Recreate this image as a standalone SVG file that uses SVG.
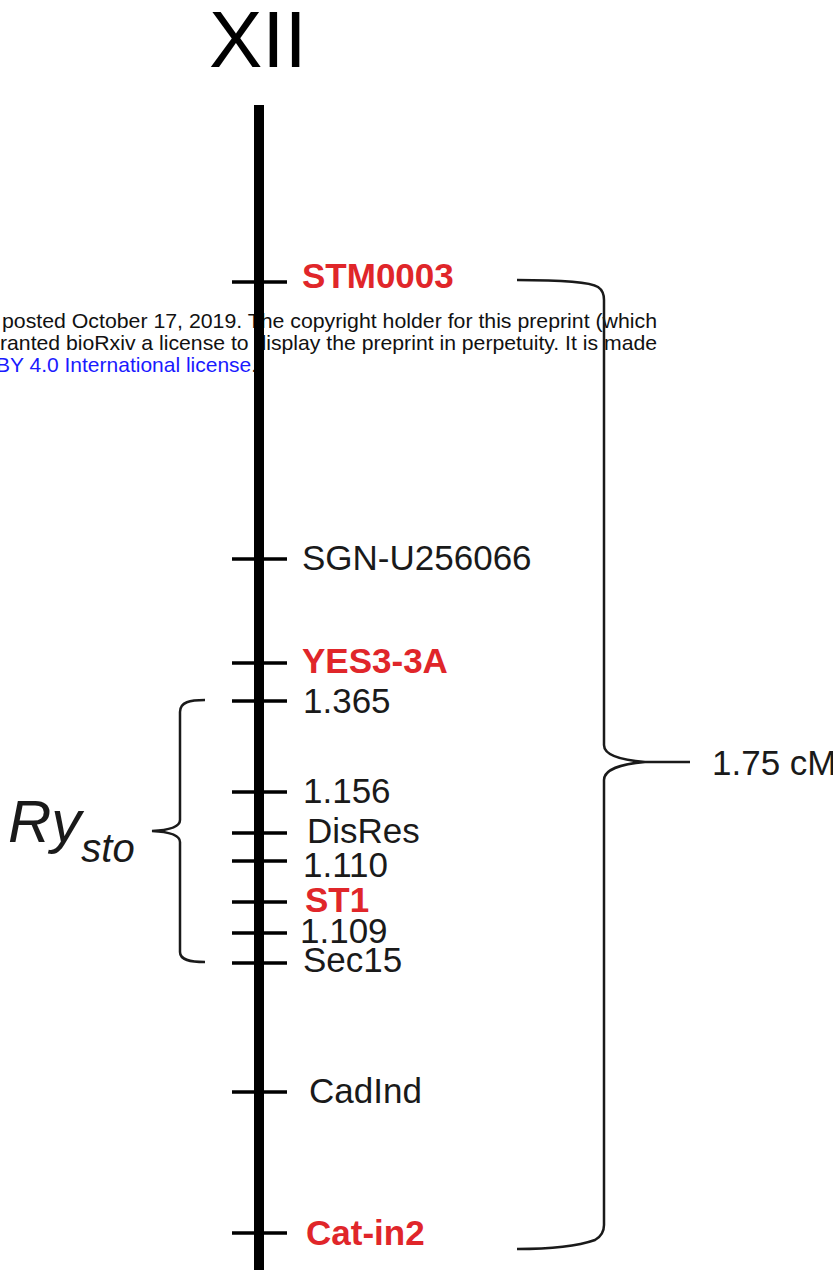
<svg xmlns="http://www.w3.org/2000/svg" width="833" height="1273" viewBox="0 0 833 1273">
<style>
.wm{font-family:"Liberation Sans",Arial,sans-serif;font-size:21px;fill:#111}
.lbl{font-family:"Liberation Sans",Arial,sans-serif;font-size:35px;fill:#1a1a1a}
.red{font-family:"Liberation Sans",Arial,sans-serif;font-size:35px;font-weight:bold;fill:#e0262a}
.tick{stroke:#000;stroke-width:3.5}
.br{fill:none;stroke:#1a1a1a;stroke-width:2.5}
</style>
<rect width="833" height="1273" fill="#fff"/>
<g id="watermark">
<text class="wm" x="2" y="328" textLength="655" lengthAdjust="spacingAndGlyphs">posted October 17, 2019. The copyright holder for this preprint (which</text>
<text class="wm" x="0" y="350" textLength="657" lengthAdjust="spacingAndGlyphs">ranted bioRxiv a license to display the preprint in perpetuity. It is made</text>
<text class="wm" x="-4" y="372"><tspan fill="#1a1aff">BY 4.0 International license</tspan>.</text>
</g>
<g id="title"><text x="209" y="67" font-family="Liberation Sans,Arial,sans-serif" font-size="80" fill="#000">XII</text></g>
<g id="chromosome">
<rect x="254" y="105" width="10" height="1165" fill="#000"/>
</g>
<g id="connectors">
<path class="br" d="M517,280 C560,280 590,282 598,287 Q604,291 604,300 L604,745 C604,755 620,760 645,762 L690,762 M645,762 C620,764 604,770 604,780 L604,1225 Q604,1235 595,1240 C575,1247 545,1249 517,1249"/>
<path class="br" d="M205,700 C190,700 180,702 180,712 L180,820 C180,826 172,830 152,831 C172,832 180,836 180,842 L180,952 C180,960 190,962 205,962"/>
</g>
<g id="m-STM0003"><line class="tick" x1="232" y1="282" x2="287" y2="282"/><text class="red" x="302" y="288">STM0003</text></g>
<g id="m-SGN"><line class="tick" x1="232" y1="559" x2="287" y2="559"/><text class="lbl" x="302" y="570">SGN-U256066</text></g>
<g id="m-YES3"><line class="tick" x1="232" y1="663" x2="287" y2="663"/><text class="red" x="302" y="673">YES3-3A</text></g>
<g id="m-1365"><line class="tick" x1="232" y1="701" x2="287" y2="701"/><text class="lbl" x="303" y="713">1.365</text></g>
<g id="m-1156"><line class="tick" x1="232" y1="792" x2="287" y2="792"/><text class="lbl" x="303" y="803">1.156</text></g>
<g id="m-DisRes"><line class="tick" x1="232" y1="833" x2="287" y2="833"/><text class="lbl" x="307" y="843">DisRes</text></g>
<g id="m-1110"><line class="tick" x1="232" y1="861" x2="287" y2="861"/><text class="lbl" x="303" y="877">1.110</text></g>
<g id="m-ST1"><line class="tick" x1="232" y1="902" x2="287" y2="902"/><text class="red" x="305" y="912">ST1</text></g>
<g id="m-1109"><line class="tick" x1="232" y1="933" x2="287" y2="933"/><text class="lbl" x="300" y="943">1.109</text></g>
<g id="m-Sec15"><line class="tick" x1="232" y1="963" x2="287" y2="963"/><text class="lbl" x="303" y="972">Sec15</text></g>
<g id="m-CadInd"><line class="tick" x1="232" y1="1092" x2="287" y2="1092"/><text class="lbl" x="309" y="1103">CadInd</text></g>
<g id="m-Catin2"><line class="tick" x1="232" y1="1233" x2="287" y2="1233"/><text class="red" x="306" y="1245">Cat-in2</text></g>
<g id="label-rysto"><text font-family="Liberation Sans,Arial,sans-serif" font-style="italic" fill="#1a1a1a" x="8" y="842" font-size="60">Ry<tspan font-size="40" dy="20">sto</tspan></text></g>
<g id="label-cm"><text class="lbl" x="712" y="775" font-size="34">1.75 cM</text></g>
</svg>
